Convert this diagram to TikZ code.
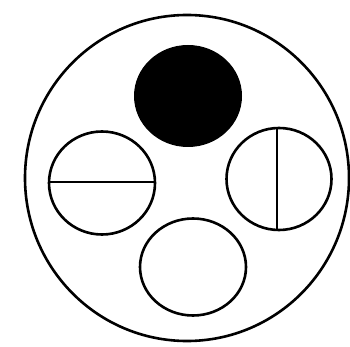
\documentclass[tikz,border=0pt]{standalone}
\begin{document}
\begin{tikzpicture}[x=1pt,y=-1pt,line width=2.6pt,
  ring/.style={draw=black}]
\useasboundingbox (0,0) rectangle (350,347);
\draw[ring] (187,178) ellipse (162 and 163);
\fill[black] (188,96) ellipse (54 and 51);
\draw[ring] (102,183) ellipse (53 and 51.5);
\draw (49,182) -- (155,182);
\draw[ring] (279,179) ellipse (52.5 and 51);
\draw (277,128) -- (277,230);
\draw[ring] (193,267) ellipse (53 and 48.5);
\end{tikzpicture}
\end{document}
